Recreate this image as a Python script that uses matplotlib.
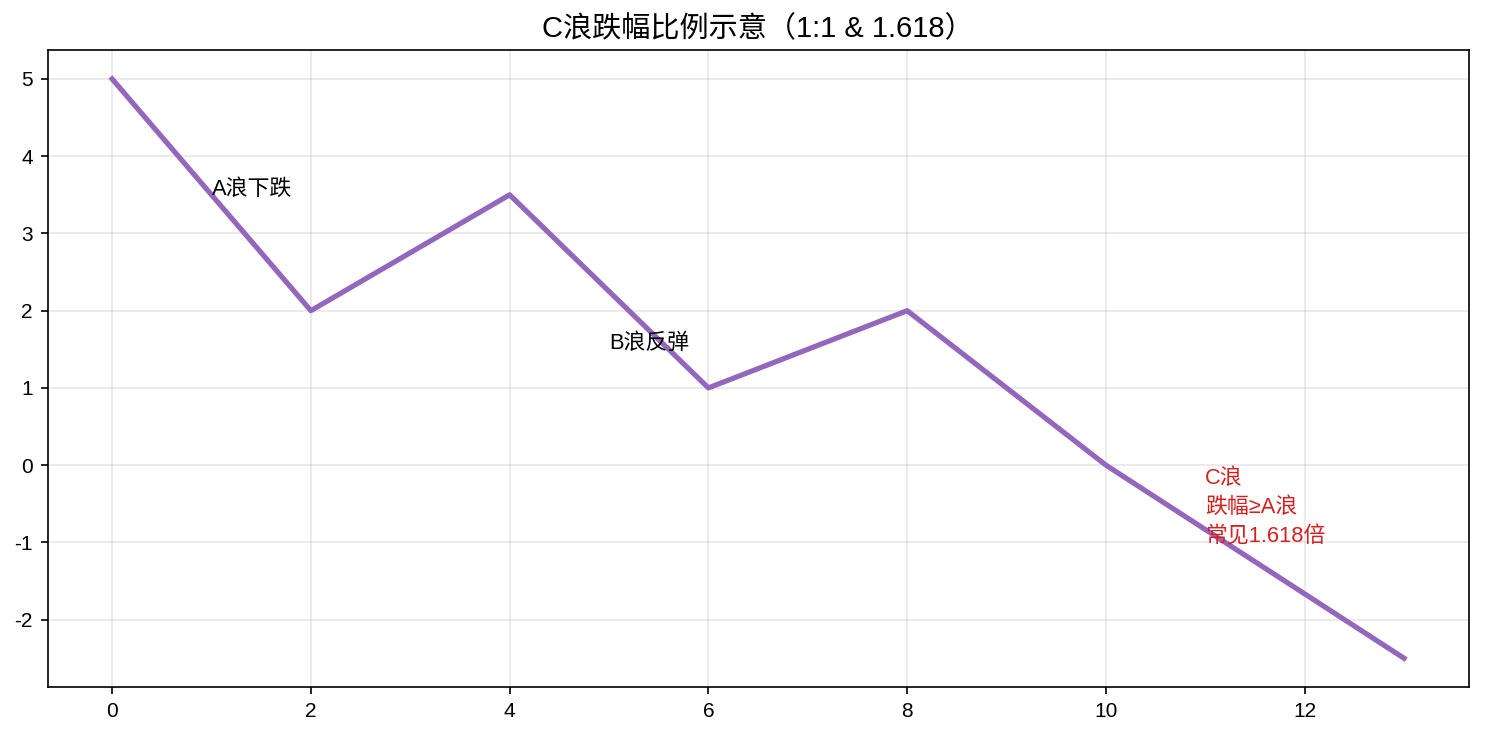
import matplotlib
matplotlib.use("Agg")
import matplotlib.pyplot as plt

plt.rcParams["font.family"] = ["Liberation Sans", "Noto Sans CJK SC", "DejaVu Sans"]
plt.rcParams["axes.unicode_minus"] = False

# wave vertices
x = [0, 2, 4, 6, 8, 10, 13]
y = [5, 2, 3.5, 1, 2, 0, -2.5]

labels = ["A浪下跌", "B浪反弹", "C浪\n跌幅≥A浪\n常见1.618倍"]
label_x = [1, 5, 11]
label_y = [3.5, 1.5, -1]
label_colors = ["black", "black", "#d62020"]

fig, ax = plt.subplots(figsize=(9.9, 4.9), dpi=150)
fig.subplots_adjust(left=0.032, right=0.989, top=0.932, bottom=0.065)

ax.plot(x, y, color="tab:purple", linewidth=2.5)

for t, tx, ty, c in zip(labels, label_x, label_y, label_colors):
    ax.text(tx, ty, t, color=c, fontsize=10.5, linespacing=1.5)

ax.set_title("C浪跌幅比例示意（1:1 & 1.618）", fontsize=14)
ax.grid(True, alpha=0.3)

fig.savefig("out.png", dpi=150)
